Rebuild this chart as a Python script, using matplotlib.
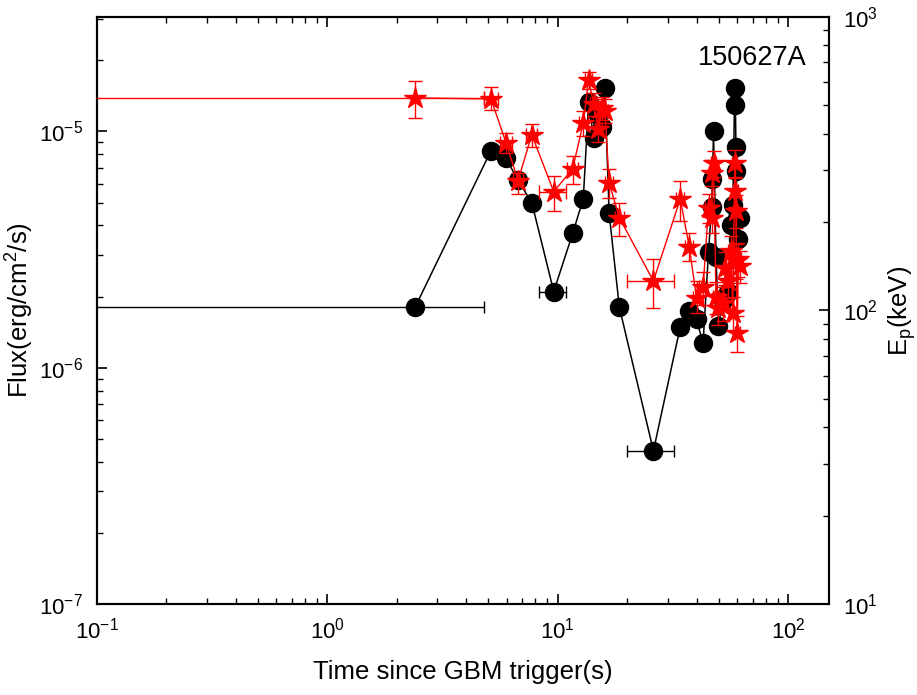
import matplotlib
matplotlib.use("Agg")
import matplotlib.pyplot as plt
import numpy as np

plt.rcParams['font.family'] = ['Liberation Sans', 'DejaVu Sans']
plt.rcParams['mathtext.fontset'] = 'custom'
plt.rcParams['mathtext.rm'] = 'Liberation Sans'
plt.rcParams['mathtext.it'] = 'Liberation Sans:italic'
plt.rcParams['mathtext.bf'] = 'Liberation Sans:bold'
plt.rcParams['axes.unicode_minus'] = False

# ---- data ----
t = [2.4, 5.13, 5.96, 6.72, 7.71, 9.6, 11.6, 12.9, 13.6, 14.3, 15.0, 15.6, 16.0,
     16.7, 18.5, 26.0, 34.0, 37.2, 40.0, 42.7, 45.1, 46.5, 46.9, 47.4, 48.6, 49.8,
     52.0, 53.4, 55.0, 56.5, 57.5, 58.6, 59.0, 59.3, 59.6, 60.0, 60.8, 62.0]
t_err_lo = [2.399, 0.37, 0.35, 0.35, 0.4, 1.3, 0.6, 0.6, 0.5, 0.5, 0.5, 0.5, 0.5,
            0.6, 0.8, 6.0, 1.3, 1.5, 1.5, 1.5, 1.5, 1.2, 1.2, 1.2, 1.3, 1.3,
            1.5, 1.5, 1.5, 1.5, 1.5, 1.5, 1.5, 1.5, 1.5, 1.5, 1.5, 1.5]
t_err_hi = [2.4, 0.37, 0.35, 0.35, 0.4, 1.3, 0.6, 0.6, 0.5, 0.5, 0.5, 0.5, 0.5,
            0.6, 0.8, 6.0, 1.3, 1.5, 1.5, 1.5, 1.5, 1.2, 1.2, 1.2, 1.3, 1.3,
            1.5, 1.5, 1.5, 1.5, 1.5, 1.5, 1.5, 1.5, 1.5, 1.5, 1.5, 1.5]
flux = [1.8e-6, 8.3e-6, 7.7e-6, 6.2e-6, 5.0e-6, 2.1e-6, 3.7e-6, 5.2e-6, 1.33e-5,
        9.4e-6, 1.17e-5, 1.04e-5, 1.53e-5, 4.5e-6, 1.8e-6, 4.45e-7, 1.49e-6,
        1.74e-6, 1.6e-6, 1.27e-6, 3.1e-6, 4.8e-6, 6.3e-6, 1.0e-5, 2.95e-6, 1.5e-6,
        1.94e-6, 2.0e-6, 2.1e-6, 4.0e-6, 4.9e-6, 1.53e-5, 1.29e-5, 8.6e-6, 6.8e-6,
        4.3e-6, 3.5e-6, 4.3e-6]
ep = [530, 526, 373, 277, 397, 254, 304, 436, 611, 506, 416, 490, 480, 272, 207,
      126, 240, 165, 110, 120, 224, 206, 295, 317, 111, 102, 106, 140, 126, 160,
      98, 317, 256, 219, 148, 84, 150, 142]
ep_err_lo = [77, 42, 29, 27, 36, 35, 34, 42, 42, 45, 40, 45, 45, 30, 27, 24, 38,
             17, 12, 16, 25, 22, 30, 32, 14, 13, 14, 18, 16, 20, 13, 35, 30, 28,
             20, 12, 20, 18]
ep_err_hi = [76, 50, 30, 18, 35, 34, 32, 43, 39, 45, 40, 45, 45, 32, 26, 24, 37,
             19, 16, 15, 25, 22, 30, 32, 14, 13, 14, 18, 16, 20, 13, 35, 30, 28,
             20, 12, 20, 18]
grb_name = "150627A"

# ---- figure ----
fig = plt.figure(figsize=(9.17, 6.95), dpi=100)
ax1 = fig.add_axes([0.1058, 0.131, 0.798, 0.8445])
ax1.set_xscale('log')
ax1.set_yscale('log')
ax1.set_xlim(0.1, 150)
ax1.set_ylim(1e-7, 3.05e-5)

ax1.errorbar(t, flux, xerr=[t_err_lo, t_err_hi], fmt='-o', color='black',
             ms=13, lw=1.1, elinewidth=1.0, capsize=4, capthick=1.0, zorder=2)

ax2 = ax1.twinx()
ax2.set_yscale('log')
ax2.set_ylim(10, 1000)
ax2.errorbar(t, ep, xerr=[t_err_lo, t_err_hi], yerr=[ep_err_lo, ep_err_hi],
             fmt='-*', color='red', ms=16, lw=1.0, elinewidth=1.0, capsize=5,
             capthick=1.0, zorder=3)

for ax in (ax1, ax2):
    for s in ax.spines.values():
        s.set_linewidth(1.5)

ax1.tick_params(which='major', direction='in', length=7, width=1.2,
                top=True, right=False, labelsize=16, pad=10)
ax1.tick_params(which='minor', direction='in', length=4, width=1.0,
                top=True, right=False)
ax2.tick_params(which='major', direction='in', length=7, width=1.2,
                labelsize=16, pad=10)
ax2.tick_params(which='minor', direction='in', length=4, width=1.0)

ax1.set_xlabel('Time since GBM trigger(s)', fontsize=18.5, labelpad=12)
ax1.set_ylabel('Flux(erg/cm$^2$/s)', fontsize=18.5)
ax1.yaxis.set_label_coords(-0.083, 0.5)
ax2.set_ylabel('E$_\\mathrm{p}$(keV)', fontsize=18.5, labelpad=6)

ax1.text(0.97, 0.93, grb_name, transform=ax1.transAxes, ha='right', va='center',
         fontsize=19.5)

fig.savefig('out.png', dpi=100)
